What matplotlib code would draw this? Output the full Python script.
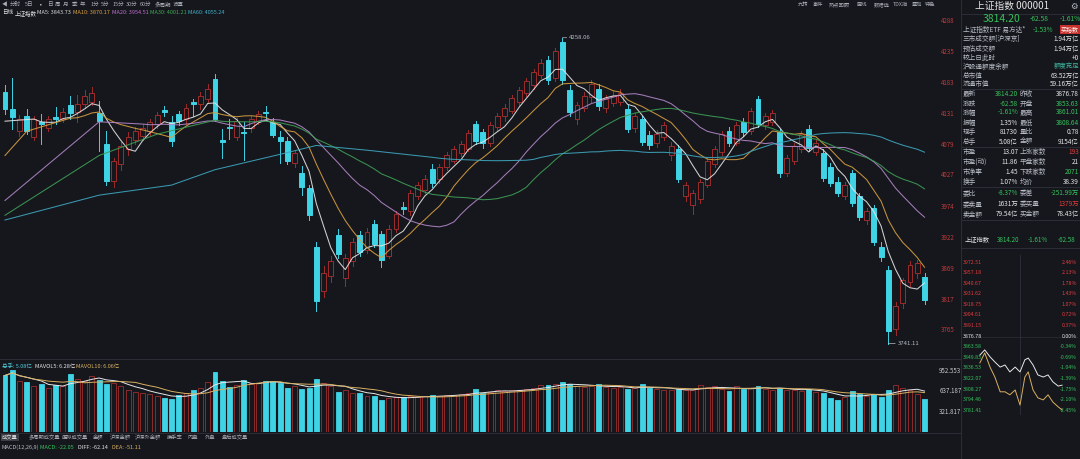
import numpy as np
import pandas as pd
import matplotlib
matplotlib.use('Agg')
import matplotlib.pyplot as plt
from matplotlib.patches import Rectangle
from matplotlib.lines import Line2D
import matplotlib.transforms as mtrans

plt.rcParams['font.family'] = ['Noto Sans CJK SC', 'DejaVu Sans']

# ---- daily K line, 上证指数 ----
opens = [4167, 4137, 4100, 4126, 4091, 4115, 4105, 4124, 4121, 4144,
         4132, 4146, 4150, 4131, 4079, 4016, 4045, 4070, 4085, 4092,
         4100, 4112, 4136, 4116, 4129, 4120, 4149, 4146, 4155, 4189,
         4086, 4108, 4090, 4099, 4105, 4117, 4132, 4116, 4091, 4084,
         4046, 4029, 4004, 3905, 3830, 3855, 3925, 3852, 3880, 3924,
         3900, 3943, 3926, 3890, 3935, 3972, 3965, 3990, 4000, 4037,
         4020, 4040, 4050, 4063, 4070, 4112, 4098, 4080, 4108, 4125,
         4135, 4150, 4165, 4178, 4195, 4220, 4190, 4250, 4170, 4120,
         4140, 4158, 4172, 4140, 4148, 4150, 4137, 4105, 4120, 4094,
         4080, 4090, 4060, 4070, 3990, 3975, 3985, 4010, 4045, 4065,
         4100, 4080, 4115, 4100, 4154, 4110, 4115, 4099, 4030, 4050,
         4070, 4104, 4065, 4063, 4040, 4015, 3990, 4029, 3990, 3950,
         3970, 3905, 3866, 3765, 3810, 3845, 3860, 3853.63]
highs = [4179, 4190, 4128, 4137, 4125, 4129, 4126, 4141, 4140, 4159,
         4162, 4170, 4175, 4151, 4101, 4055, 4082, 4098, 4108, 4112,
         4120, 4132, 4142, 4125, 4135, 4146, 4155, 4166, 4180, 4196,
         4104, 4121, 4122, 4116, 4126, 4135, 4142, 4122, 4101, 4090,
         4068, 4041, 4010, 3913, 3872, 3890, 3935, 3892, 3920, 3932,
         3936, 3950, 3932, 3942, 3966, 3980, 4000, 4015, 4026, 4044,
         4045, 4065, 4075, 4084, 4102, 4118, 4104, 4115, 4130, 4146,
         4162, 4175, 4190, 4206, 4222, 4228, 4240, 4258.06, 4178, 4150,
         4166, 4186, 4180, 4162, 4168, 4172, 4145, 4130, 4126, 4100,
         4102, 4115, 4082, 4076, 4015, 4000, 4020, 4055, 4075, 4100,
         4108, 4115, 4122, 4140, 4160, 4130, 4136, 4104, 4060, 4080,
         4100, 4110, 4086, 4070, 4046, 4022, 4015, 4035, 3996, 3970,
         3976, 3912, 3872, 3812, 3852, 3880, 3882, 3861.01]
lows = [4129, 4104, 4092, 4096, 4085, 4079, 4100, 4112, 4115, 4121,
        4116, 4140, 4145, 4066, 4009, 4005, 4035, 4060, 4078, 4085,
        4094, 4105, 4125, 4075, 4110, 4112, 4125, 4138, 4150, 4117,
        4054, 4087, 4085, 4051, 4098, 4112, 4121, 4090, 4046, 4045,
        4040, 3993, 3950, 3797, 3820, 3845, 3885, 3838, 3872, 3890,
        3895, 3905, 3870, 3885, 3930, 3960, 3958, 3985, 3995, 4005,
        4012, 4035, 4046, 4058, 4066, 4078, 4072, 4075, 4102, 4118,
        4130, 4145, 4160, 4172, 4190, 4180, 4185, 4180, 4125, 4112,
        4134, 4150, 4136, 4132, 4142, 4145, 4098, 4098, 4076, 4070,
        4074, 4085, 4052, 4015, 3982, 3960, 3978, 4005, 4040, 4060,
        4075, 4076, 4092, 4095, 4108, 4104, 4110, 4022, 4025, 4045,
        4065, 4066, 4060, 4016, 4008, 3990, 3985, 3974, 3950, 3944,
        3908, 3880, 3741.11, 3755, 3802, 3838, 3852, 3808.64]
closes = [4137, 4124, 4120, 4101, 4121, 4113, 4120, 4121, 4132, 4131,
          4146, 4159, 4165, 4117, 4016, 4050, 4075, 4090, 4100, 4105,
          4115, 4128, 4133, 4083, 4117, 4140, 4146, 4160, 4172, 4121,
          4082, 4106, 4118, 4097, 4120, 4129, 4130, 4094, 4084, 4049,
          4063, 4006, 3958, 3813, 3860, 3880, 3893, 3885, 3913, 3896,
          3930, 3910, 3883, 3935, 3960, 3968, 3996, 4010, 4020, 4013,
          4040, 4060, 4070, 4078, 4097, 4084, 4080, 4110, 4125, 4140,
          4157, 4170, 4185, 4200, 4215, 4187, 4235, 4187, 4132, 4145,
          4160, 4180, 4143, 4155, 4160, 4165, 4104, 4125, 4082, 4076,
          4096, 4110, 4075, 4020, 4010, 3995, 4015, 4050, 4070, 4095,
          4080, 4110, 4098, 4135, 4112, 4125, 4130, 4029, 4055, 4075,
          4095, 4071, 4080, 4021, 4013, 3995, 4010, 3979, 3955, 3965,
          3913, 3888, 3762, 3805, 3848, 3874.67, 3876.78, 3814.20]
# 成交量 (百万手)
volumes = [869, 946, 780, 766, 700, 730, 680, 715, 700, 884,
           820, 780, 860, 803, 741, 760, 700, 650, 620, 600,
           580, 560, 526, 500, 561, 600, 649, 680, 770, 920,
           777, 689, 720, 803, 740, 760, 782, 782, 751, 680,
           700, 664, 670, 807, 760, 700, 612, 640, 600, 603,
           560, 546, 495, 520, 540, 535, 545, 530, 550, 561,
           560, 570, 565, 580, 600, 664, 603, 620, 640, 630,
           650, 640, 660, 680, 720, 715, 740, 766, 730, 700,
           690, 700, 730, 690, 680, 690, 654, 670, 741, 674,
           660, 650, 640, 654, 640, 650, 720, 690, 700, 660,
           623, 700, 654, 680, 705, 660, 650, 680, 650, 640,
           630, 664, 620, 597, 515, 495, 540, 623, 587, 560,
           577, 535, 649, 720, 680, 650, 582, 508]

# moving average start (values before enough history)
ma_windows = [5, 10, 20, 30, 60]
ma_colors = ['#e6e6e6', '#d9a040', '#b487c8', '#3f9f55', '#3fa6bf']
ma_knot_idx = [[0], [0, 3], [0, 13], [0, 13, 21], [0, 13, 23, 29, 38, 43, 50]]
ma_knot_val = [[4117], [4059, 4100], [3983, 4116], [3958, 4059, 4095],
               [3950, 3992, 4009, 4035, 4061, 4076, 4068]]
ma_legend = ['MA5: 3843.73', 'MA10: 3870.17', 'MA20: 3954.51', 'MA30: 4001.21', 'MA60: 4055.24']
ma_legend_colors = ['#d8d8d8', '#d9a040', '#c070d0', '#40a850', '#40b0c8']

price_ticks = [3765, 3817, 3869, 3922, 3974, 4027, 4079, 4131, 4183, 4235, 4288]
vol_ticks = [321.817, 637.187, 952.553]

# intraday mini chart (% change), right panel
mini_min = [37, 47, 58, 68, 79, 89, 99, 110, 120, 130, 137, 147, 157, 168, 178, 188, 199, 207]
mini_white = [-0.61, -0.44, -0.67, -0.84, -1.01, -0.94, -1.17, -1.01, -1.17, -0.77,
              -0.71, -0.94, -1.27, -1.34, -1.27, -1.50, -1.64, -1.61]
mini_yellow = [-0.87, -0.54, -1.01, -1.34, -1.83, -1.83, -1.93, -1.77, -2.27, -1.34,
               -1.17, -1.77, -2.03, -2.10, -1.93, -2.17, -2.33, -2.43]
mini_pct = [2.46, 2.13, 1.78, 1.43, 1.07, 0.72, 0.37, 0.00, -0.34, -0.69, -1.04, -1.39, -1.75, -2.10, -2.45]
mini_price = ['3972.51', '3957.18', '3940.67', '3931.62', '3918.75', '3904.61', '3891.15', '3876.78',
              '3863.58', '3849.83', '3836.53', '3822.07', '3808.27', '3794.46', '3781.41']

BG = '#15171d'
UP = '#9e2c2c'
DN = '#3fd3e6'
GRN = '#35c25a'
RED = '#e03c3c'
LBL = '#b8bcc4'
WHT = '#e4e4e4'
SEP = '#2b2e36'

W, H = 1080, 459
fig = plt.figure(figsize=(W / 100, H / 100), dpi=100, facecolor=BG)


def tx(x, y, s, **kw):
    kw.setdefault('va', 'center')
    kw.setdefault('fontsize', 4.6)
    kw.setdefault('color', LBL)
    fig.text(x / W, 1 - y / H, s, **kw)


def hline(y, x0, x1, c=SEP, lw=0.7):
    fig.add_artist(Line2D([x0 / W, x1 / W], [1 - y / H, 1 - y / H], color=c, lw=lw))


def vline(x, y0, y1, c=SEP, lw=0.7):
    fig.add_artist(Line2D([x / W, x / W], [1 - y0 / H, 1 - y1 / H], color=c, lw=lw))


def axes_px(x0, y0, x1, y1):
    a = fig.add_axes([x0 / W, 1 - y1 / H, (x1 - x0) / W, (y1 - y0) / H])
    a.set_facecolor('none')
    for s in a.spines.values():
        s.set_visible(False)
    return a


n = len(closes)
xs = np.arange(n)
bw = 0.68

# ---- main K line panel ----
ax = axes_px(0, 20, 935, 357)
ax.set_xlim(-0.69, 128.45)
ax.set_ylim(3718.5, 4278.7)
for i in range(n):
    up = closes[i] >= opens[i]
    c = UP if up else DN
    ax.plot([i, i], [lows[i], highs[i]], color=c, lw=0.7, zorder=2)
    lo, hi = min(opens[i], closes[i]), max(opens[i], closes[i])
    ax.add_patch(Rectangle((i - bw / 2, lo), bw, max(hi - lo, 0.8),
                           facecolor=BG if up else DN, edgecolor=c, lw=0.7, zorder=3))

cs = pd.Series(closes)
for w, col, ki, kv in zip(ma_windows, ma_colors, ma_knot_idx, ma_knot_val):
    ma = cs.rolling(w).mean()
    mx = list(ki) + list(range(w - 1, n))
    my = list(kv) + list(ma[w - 1:])
    ax.plot(mx, my, color=col, lw=0.75, zorder=4, alpha=0.9)

ax.annotate('4258.06', xy=(77, 4258.06), xytext=(5, 0), textcoords='offset points',
            fontsize=4.3, color=LBL, va='center',
            arrowprops=dict(arrowstyle='-', color=LBL, lw=0.5, shrinkA=0, shrinkB=0))
ax.annotate('3741.11', xy=(122, 3741.11), xytext=(7, 0), textcoords='offset points',
            fontsize=4.3, color=LBL, va='center',
            arrowprops=dict(arrowstyle='-', color=LBL, lw=0.5, shrinkA=0, shrinkB=0))

ax.set_xticks([])
ax.yaxis.tick_right()
ax.set_yticks(price_ticks)
ax.set_yticklabels([str(t) for t in price_ticks])
ax.tick_params(axis='y', length=0, pad=4, labelsize=4.4, labelcolor='#c23a3a')

# ---- volume panel ----
axv = axes_px(0, 362, 935, 432)
axv.set_xlim(-0.69, 128.45)
axv.set_ylim(-1.5, 1075.6)
for i in range(n):
    up = closes[i] >= opens[i]
    axv.add_patch(Rectangle((i - bw / 2, 0), bw, volumes[i],
                            facecolor=BG if up else DN, edgecolor=UP if up else DN, lw=0.6, zorder=2))
vs = pd.Series(volumes)
axv.plot(xs, vs.rolling(5, min_periods=1).mean(), color='#e6e6e6', lw=0.7, zorder=3)
axv.plot(xs, vs.rolling(10, min_periods=1).mean(), color='#d9b060', lw=0.7, zorder=3)
axv.set_xticks([])
axv.yaxis.tick_right()
axv.set_yticks(vol_ticks)
axv.set_yticklabels(['321.817', '637.187', '952.553'])
axv.tick_params(axis='y', length=0, pad=3, labelsize=4.4, labelcolor='#c8c8c8')

# ---- separators ----
hline(359, 0, 961)
hline(432.5, 0, 961)
vline(961, 0, 459)
for y in [14, 89, 146.5, 187, 220, 248]:
    hline(y, 961, 1080)

# ---- toolbar rows ----
toolbar = [('◀', 2), ('分时', 10), ('5日', 25), ('▪', 38), ('日', 47), ('周', 55), ('月', 63),
           ('季', 72), ('年', 80), ('1分', 91), ('5分', 101), ('15分', 113), ('30分', 126),
           ('60分', 140), ('多周期', 155), ('设置', 173)]
for s, x in toolbar:
    tx(x, 4.5, s, fontsize=4.0, color='#a8acb4')
for s, x in [('九转', 798), ('事件', 813), ('热点回顾', 829), ('画线', 857),
             ('数据选', 874), ('TDX指', 893), ('叠加', 912), ('特色', 925)]:
    tx(x, 4.5, s, fontsize=3.8, color='#a8acb4')

tx(2, 13, '日线', fontsize=4.0, color=WHT)
tx(15, 13, '上证指数', fontsize=4.0, color=WHT)
for s, c, x in zip(ma_legend, ma_legend_colors, [37, 73, 112, 150, 188]):
    tx(x, 13, s, fontsize=4.0, color=c)

# ---- volume legend / tabs / MACD ----
tx(2, 366, '总手: 5.08亿', fontsize=4.0, color='#4fc8d8')
tx(35, 366, 'MAVOL5: 6.28亿', fontsize=4.0, color=WHT)
tx(76, 366, 'MAVOL10: 6.06亿', fontsize=4.0, color='#d9b060')

tabs = [('成交量', 2), ('多周期成交量', 29), ('虚拟成交量', 62), ('金额', 93), ('沪深金额', 110),
        ('沪深外金额', 135), ('换手率', 167), ('内盘', 188), ('外盘', 205), ('盘后成交量', 222)]
for s, x in tabs:
    if s == '成交量':
        tx(x, 437.5, s, fontsize=3.8, color=WHT,
           bbox=dict(boxstyle='square,pad=0.25', fc='#3a3e47', ec='none'))
    else:
        tx(x, 437.5, s, fontsize=3.8, color='#a8acb4')
tx(2, 447.5, 'MACD(12,26,9)', fontsize=4.0, color=LBL)
tx(40, 447.5, 'MACD: -22.05', fontsize=4.0, color=GRN)
tx(78, 447.5, 'DIFF: -62.14', fontsize=4.0, color=WHT)
tx(112, 447.5, 'DEA: -51.11', fontsize=4.0, color='#d9b060')

# ---- right quote panel ----
tx(1012, 6, '上证指数 000001', fontsize=7, color=WHT, ha='center')
tx(1074, 6, '⚙', fontsize=6, color=LBL, ha='center')
tx(983, 19, '3814.20', fontsize=7.5, color=GRN)
tx(1030, 19, '-62.58', fontsize=4.8, color=GRN)
tx(1060, 19, '-1.61%', fontsize=4.8, color=GRN)

tx(963, 29.5, '上证指数ETF 易方达*', fontsize=4.8)
tx(1053, 29.5, '-1.53%', fontsize=4.6, color=GRN, ha='right')
tx(1070, 29.5, '买指数', fontsize=4.3, color='white', ha='center',
   bbox=dict(boxstyle='square,pad=0.25', fc='#c8302c', ec='none'))

single_rows = [(39.5, '三市成交额[沪深京]', '1.94万亿', WHT),
               (48.5, '预估成交额', '1.94万亿', WHT),
               (57.5, '较上日此时', '+0', WHT),
               (66.7, '沪股通额度余额', '额度充足', '#3fb8a0'),
               (76, '总市值', '63.52万亿', WHT),
               (84.3, '流通市值', '59.16万亿', WHT)]
for y, lab, val, c in single_rows:
    tx(963, y, lab, fontsize=4.8)
    tx(1079, y, val, fontsize=4.6, color=c, ha='right')

pair_rows = [(94.3, '最新', '3814.20', GRN, '昨收', '3876.78', WHT),
             (103.5, '涨跌', '-62.58', GRN, '开盘', '3853.63', GRN),
             (112.5, '涨幅', '-1.61%', GRN, '最高', '3861.01', GRN),
             (123, '振幅', '1.35%', WHT, '最低', '3808.64', GRN),
             (132.5, '现手', '81730', WHT, '量比', '0.78', WHT),
             (141.7, '总手', '5.08亿', WHT, '金额', '9154亿', WHT),
             (151.7, '市盈', '13.07', WHT, '上涨家数', '193', RED),
             (161.7, '市盈(动)', '11.86', WHT, '平盘家数', '21', WHT),
             (171.7, '市净率', '1.45', WHT, '下跌家数', '2071', GRN),
             (181.7, '换手', '1.07%', WHT, '均价', '38.39', WHT),
             (192.7, '委比', '-8.37%', GRN, '委差', '-251.99万', GRN),
             (204, '委卖量', '1631万', WHT, '委买量', '1379万', RED),
             (214, '卖金额', '79.54亿', WHT, '买金额', '78.43亿', WHT)]
for y, l1, v1, c1, l2, v2, c2 in pair_rows:
    tx(963, y, l1, fontsize=4.8)
    tx(1018, y, v1, fontsize=4.6, color=c1, ha='right')
    tx(1020, y, l2, fontsize=4.8)
    tx(1079, y, v2, fontsize=4.6, color=c2, ha='right')

# ---- intraday mini chart ----
tx(965, 240, '上证指数', fontsize=4.5, color=WHT)
tx(997, 240, '3814.20', fontsize=4.5, color=GRN)
tx(1028, 240, '-1.61%', fontsize=4.5, color=GRN)
tx(1058, 240, '-62.58', fontsize=4.5, color=GRN)

axm = axes_px(962, 255, 1078, 415)
axm.set_xlim(0, 240)
axm.set_ylim(-2.60, 2.71)
axm.set_xticks([])
axm.set_yticks([])
axm.axvline(120, color=SEP, lw=0.7)
axm.axhline(0, color=SEP, lw=0.5)
axm.plot(mini_min, mini_white, color='#e8e8e8', lw=0.7)
axm.plot(mini_min, mini_yellow, color='#d9b060', lw=0.7)
bt = mtrans.blended_transform_factory(axm.transAxes, axm.transData)
for p, s in zip(mini_pct, mini_price):
    c = RED if p > 0 else (GRN if p < 0 else WHT)
    axm.text(0.01, p, s, transform=bt, fontsize=3.8, color=c, va='center', ha='left')
    axm.text(0.99, p, '%.2f%%' % p, transform=bt, fontsize=3.8, color=c, va='center', ha='right')

fig.savefig('out.png', dpi=100, facecolor=BG)
